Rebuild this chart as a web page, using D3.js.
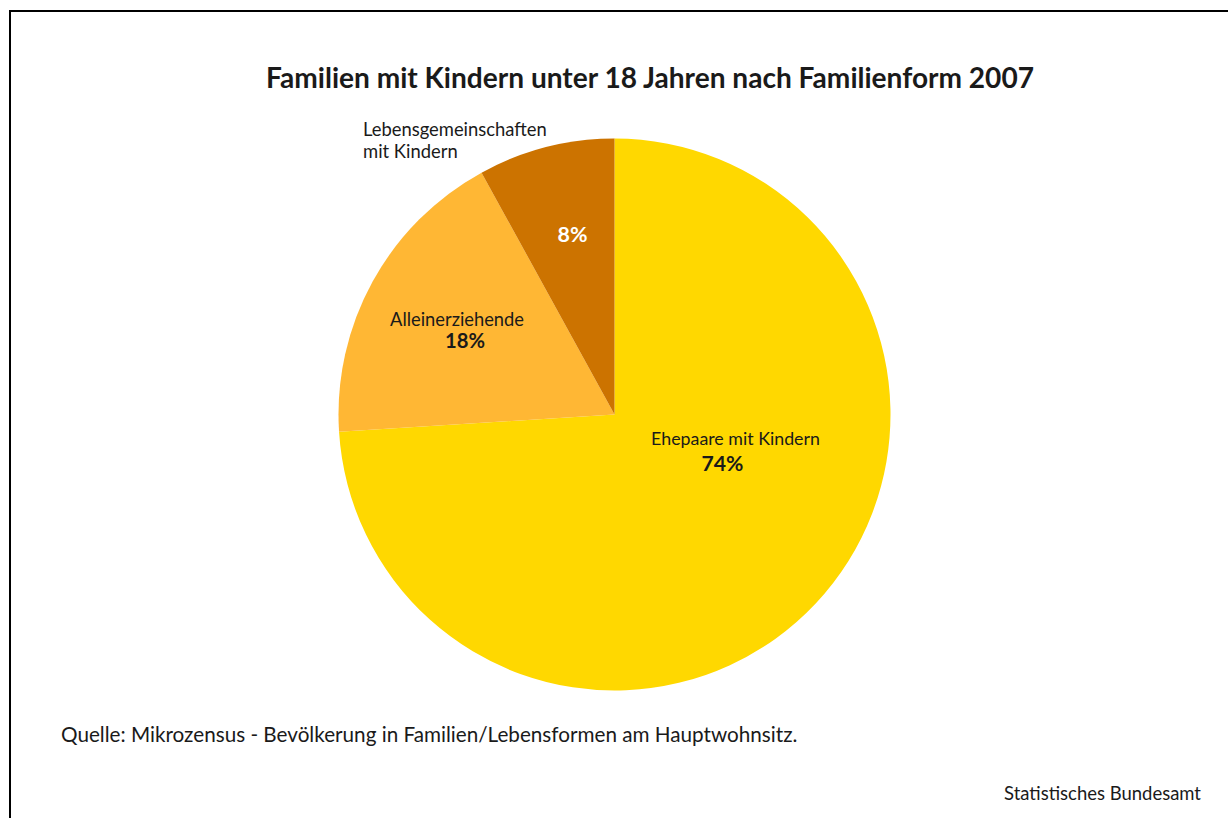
<!DOCTYPE html>
<html>
<head>
<meta charset="utf-8">
<script src="https://cdn.jsdelivr.net/npm/d3@7"></script>
<style>
  html, body { margin: 0; padding: 0; background: #fff; }
  svg { display: block; }
  text { font-family: "Lato", "Open Sans", sans-serif; fill: #1a1a1a; }
</style>
</head>
<body>
<svg id="chart" width="1228" height="818"></svg>
<script>
// ---- data ----
const categories = ["Ehepaare mit Kindern", "Alleinerziehende", "Lebensgemeinschaften mit Kindern"];
const values = [74, 18, 8];
const valueLabels = ["74%", "18%", "8%"];
const colors = ["#FFD800", "#FFB734", "#CC7300"];
const titleText = "Familien mit Kindern unter 18 Jahren nach Familienform 2007";
const sourceText = "Quelle: Mikrozensus - Bevölkerung in Familien/Lebensformen am Hauptwohnsitz.";
const creditText = "Statistisches Bundesamt";

// ---- layout ----
const W = 1228, H = 818;
const cx = 614.5, cy = 414.5, R = 276;
const svg = d3.select("#chart");

// frame
svg.append("path")
  .attr("d", `M10,${H + 5} L10,11 L${W + 5},11`)
  .attr("fill", "none").attr("stroke", "#000").attr("stroke-width", 2);

// fit text width helper
function fit(sel, target, base) {
  sel.style("font-size", base + "px");
  const w = sel.node().getComputedTextLength();
  sel.style("font-size", (base * target / w) + "px");
  return base * target / w;
}

// title
const title = svg.append("text").attr("x", 650).attr("y", 88)
  .attr("text-anchor", "middle").style("font-weight", 700).text(titleText);
fit(title, 768, 26);

// pie
const pie = d3.pie().sort(null).value(d => d)(values);
const arc = d3.arc().innerRadius(0).outerRadius(R);
const g = svg.append("g").attr("transform", `translate(${cx},${cy})`);
g.selectAll("path.slice").data(pie).join("path")
  .attr("class", "slice")
  .attr("d", arc)
  .attr("fill", (d, i) => colors[i]);

// labels (offsets from pie centre)
const labelCfg = [
  { name: [[121, 30, 169]], val: [108, 56, 42], fill: "#1a1a1a" },
  { name: [[-157.5, -89, 134]], val: [-149.5, -67, 40], fill: "#1a1a1a" },
  { name: [], val: [-42, -173, 30], fill: "#ffffff" }
];
labelCfg.forEach((c, i) => {
  c.name.forEach(n => {
    const t = g.append("text").attr("x", n[0]).attr("y", n[1])
      .attr("text-anchor", "middle").text(categories[i]);
    fit(t, n[2], 16);
  });
  const v = g.append("text").attr("x", c.val[0]).attr("y", c.val[1])
    .attr("text-anchor", "middle").style("font-weight", 700)
    .style("fill", c.fill).text(valueLabels[i]);
  fit(v, c.val[2], 18);
});

// outside label for the small slice (two lines)
const words = categories[2].split(" ");
const l1 = svg.append("text").attr("x", 363).attr("y", 136).text(words[0]);
const fs = fit(l1, 184, 16);
svg.append("text").attr("x", 363).attr("y", 158)
  .style("font-size", fs + "px").text(words.slice(1).join(" "));

// source
const src = svg.append("text").attr("x", 61).attr("y", 742).text(sourceText);
fit(src, 737, 18);

// credit
const cr = svg.append("text").attr("x", 1201).attr("y", 800)
  .attr("text-anchor", "end").text(creditText);
fit(cr, 197, 16);
</script>
</body>
</html>
